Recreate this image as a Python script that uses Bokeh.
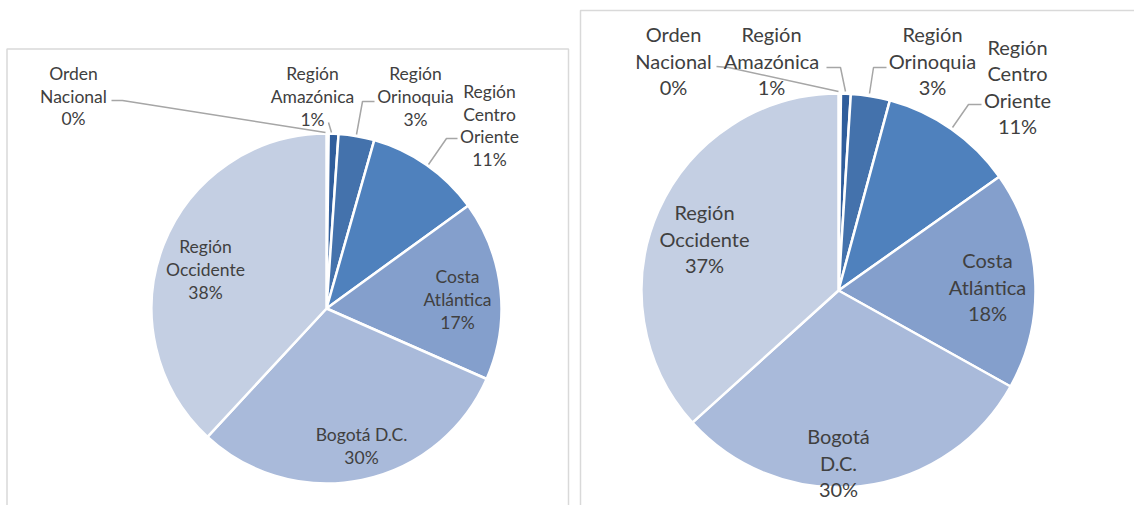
import math
from bokeh.plotting import figure
from bokeh.models import Range1d, ColumnDataSource
from bokeh.core.properties import value
from bokeh.embed import file_html
from bokeh.resources import INLINE

# ---------------- data ----------------
categories = ["Orden Nacional", "Región Amazónica", "Región Orinoquia",
              "Región Centro Oriente", "Costa Atlántica", "Bogotá D.C.",
              "Región Occidente"]
left_values = [0.2, 0.9, 3.3, 10.6, 16.6, 30.3, 38.1]
right_values = [0.2, 0.8, 3.2, 11.0, 17.9, 30.2, 36.7]

# ---------------- style / layout ----------------
colors = ["#254C84", "#305E9C", "#4472AC", "#4F81BD", "#849FCC", "#A9BADA", "#C4CFE3"]
left_wrap = [["Orden", "Nacional"], ["Región", "Amazónica"], ["Región", "Orinoquia"],
             ["Región", "Centro", "Oriente"], ["Costa", "Atlántica"], ["Bogotá D.C."],
             ["Región", "Occidente"]]
right_wrap = [["Orden", "Nacional"], ["Región", "Amazónica"], ["Región", "Orinoquia"],
              ["Región", "Centro", "Oriente"], ["Costa", "Atlántica"], ["Bogotá", "D.C."],
              ["Región", "Occidente"]]

W, H = 1134, 505
p = figure(width=W, height=H, output_backend="svg", toolbar_location=None,
           x_range=Range1d(0, W), y_range=Range1d(-H, 0),
           min_border=0, outline_line_color=None, background_fill_color="white",
           border_fill_color="white")
p.axis.visible = False
p.xgrid.visible = False
p.ygrid.visible = False

# chart frames (screen px)
p.quad(left=[6.5, 580], right=[568, 1150], top=[-48.5, -10], bottom=[-520, -520],
       fill_color=None, line_color="#D9D9D9", line_width=1.5)

TEXT = "#404040"
FONT = "Lato"


def draw_pie(values, wrap, cx, cy, r, font_px, line_h, label_pos, leaders):
    total = sum(values)
    fr = [v / total for v in values]
    cum = [0.0]
    for f in fr:
        cum.append(cum[-1] + f)
    starts = [math.pi / 2 - 2 * math.pi * cum[i + 1] for i in range(len(values))]
    ends = [math.pi / 2 - 2 * math.pi * cum[i] for i in range(len(values))]
    src = ColumnDataSource(dict(x=[cx] * len(values), y=[-cy] * len(values),
                                s=starts, e=ends, c=colors, name=categories))
    p.wedge(x="x", y="y", radius=r, start_angle="s", end_angle="e", fill_color="c",
            line_color="white", line_width=2.5, source=src)
    # leader lines
    xs, ys = [], []
    for pts in leaders:
        xs.append([cx + a for a, b in pts])
        ys.append([-(cy + b) for a, b in pts])
    p.multi_line(xs=xs, ys=ys, line_color="#A6A6A6", line_width=1.5)
    # labels
    tx, ty, tt = [], [], []
    for i, v in enumerate(values):
        lines = wrap[i] + [f"{round(v / total * 100)}%"]
        n = len(lines)
        lx, ly = label_pos[i]
        for k, s in enumerate(lines):
            tx.append(cx + lx)
            ty.append(-(cy + ly + (k - (n - 1) / 2) * line_h))
            tt.append(s)
    p.text(x=tx, y=ty, text=tt, text_align="center", text_baseline="middle",
           text_color=TEXT, text_font=value(FONT), text_font_size=f"{font_px}px")


# left pie: centre (326, 308), radius 175
left_label_pos = [(-253, -212.5), (-14, -212), (89, -212), (163, -183),
                  (131, -9), (35, 137.5), (-121, -39)]
left_leaders = [[(-215, -208), (-204, -208), (-1, -176)],
                [(2, -186), (5, -176)],
                [(48, -207), (36, -207), (30, -174)],
                [(131, -170), (120, -170), (102, -144)]]
draw_pie(left_values, left_wrap, 326, 308, 175, 17.5, 22.7, left_label_pos, left_leaders)

# right pie: centre (838, 290), radius 197
right_label_pos = [(-165, -230), (-67, -230), (94, -230), (179, -204),
                   (149, -4), (0, 172), (-134, -52)]
right_leaders = [[(-122, -224), (-110, -223), (0, -199)],
                 [(-12, -223), (2, -223), (7, -199)],
                 [(48, -223), (35, -223), (31, -197)],
                 [(143, -186), (130, -186), (114, -163)]]
draw_pie(right_values, right_wrap, 838, 290, 197, 20, 26.3, right_label_pos, right_leaders)

open("out.html", "w").write(file_html(p, INLINE))
